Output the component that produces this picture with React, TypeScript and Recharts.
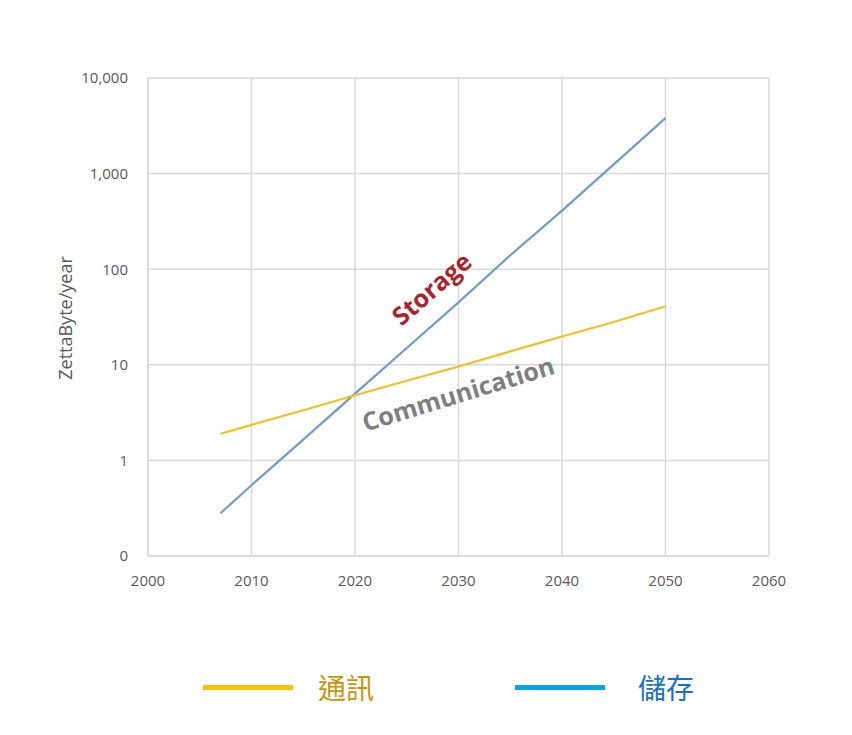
import React from 'react';
import { LineChart, Line, XAxis, YAxis, CartesianGrid } from 'recharts';

const YEARS = [2007, 2010, 2015, 2020, 2025, 2030, 2035, 2040, 2045, 2050];
const STORAGE = [0.28, 0.55, 1.65, 5, 15, 45, 140, 410, 1250, 3800];
const COMMUNICATION = [1.9, 2.35, 3.35, 4.8, 6.8, 9.6, 13.8, 19.8, 28, 41];
const X_TICKS = [2000, 2010, 2020, 2030, 2040, 2050, 2060];
const Y_TICKS = [0.1, 1, 10, 100, 1000, 10000];

const data = YEARS.map((year, i) => ({
  year,
  storage: STORAGE[i],
  communication: COMMUNICATION[i],
}));

const GRID = '#d9d9d9';
const TICK = { fill: '#595959', fontSize: 15, fontFamily: 'Open Sans' };

const formatY = (v: number) => (v < 1 ? '0' : v.toLocaleString('en-US'));

export default function App() {
  return (
    <div style={{ position: 'absolute', left: 0, top: 0, width: 852, height: 735, background: '#fff' }}>
      <LineChart
        width={852}
        height={620}
        data={data}
        margin={{ top: 78, right: 83, bottom: 34, left: 88 }}
      >
        <CartesianGrid stroke={GRID} strokeWidth={1.5} />
        <XAxis
          dataKey="year"
          type="number"
          domain={[2000, 2060]}
          ticks={X_TICKS}
          stroke={GRID}
          strokeWidth={1.5}
          tickLine={false}
          tickMargin={13}
          tick={TICK}
          height={30}
        />
        <YAxis
          scale="log"
          domain={[0.1, 10000]}
          ticks={Y_TICKS}
          tickFormatter={formatY}
          stroke={GRID}
          strokeWidth={1.5}
          tickLine={false}
          tickMargin={14}
          tick={TICK}
          width={60}
          allowDataOverflow
        />
        <Line
          dataKey="storage"
          stroke="#6f9bd0"
          strokeWidth={2.2}
          dot={false}
          isAnimationActive={false}
        />
        <Line
          dataKey="communication"
          stroke="#f4c020"
          strokeWidth={2.2}
          dot={false}
          isAnimationActive={false}
        />
      </LineChart>

      <div
        style={{
          position: 'absolute', left: 65, top: 318, transform: 'translate(-50%, -50%) rotate(-90deg)',
          fontFamily: 'Open Sans', fontSize: 18, color: '#595959', whiteSpace: 'nowrap',
        }}
      >
        ZettaByte/year
      </div>
      <div
        style={{
          position: 'absolute', left: 431, top: 288, transform: 'translate(-50%, -50%) rotate(-41deg)',
          fontFamily: 'Open Sans', fontWeight: 700, fontSize: 25, color: '#ab232b', whiteSpace: 'nowrap',
        }}
      >
        Storage
      </div>
      <div
        style={{
          position: 'absolute', left: 458, top: 393, transform: 'translate(-50%, -50%) rotate(-17deg)',
          fontFamily: 'Open Sans', fontWeight: 700, fontSize: 25, color: '#7f7f7f', whiteSpace: 'nowrap',
        }}
      >
        Communication
      </div>

      <div style={{ position: 'absolute', left: 203, top: 685, width: 90, height: 5, background: '#ffc000' }} />
      <div
        style={{
          position: 'absolute', left: 318, top: 687, transform: 'translateY(-50%)',
          fontFamily: '"Noto Sans CJK TC"', fontSize: 28, color: '#c9950c', whiteSpace: 'nowrap', lineHeight: 1,
        }}
      >
        通訊
      </div>
      <div style={{ position: 'absolute', left: 515, top: 685, width: 90, height: 5, background: '#00a8e8' }} />
      <div
        style={{
          position: 'absolute', left: 638, top: 687, transform: 'translateY(-50%)',
          fontFamily: '"Noto Sans CJK TC"', fontSize: 28, color: '#1670c8', whiteSpace: 'nowrap', lineHeight: 1,
        }}
      >
        儲存
      </div>
    </div>
  );
}
